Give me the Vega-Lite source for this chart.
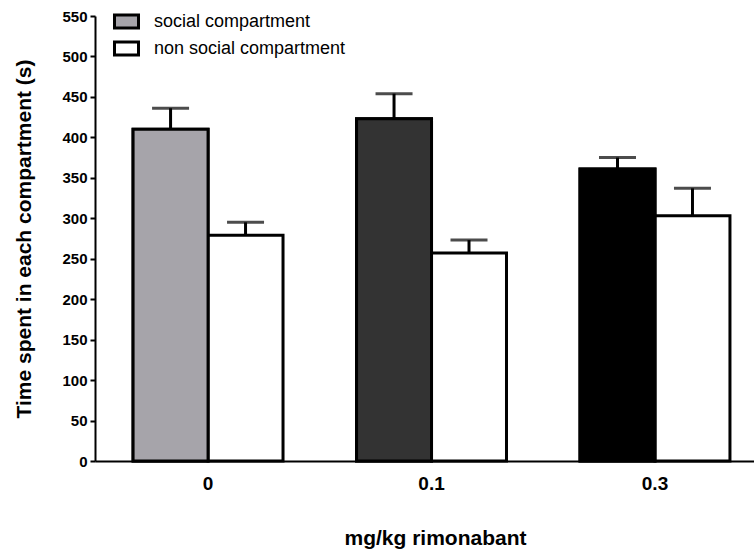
{
  "$schema": "https://vega.github.io/schema/vega-lite/v6.json",
  "autosize": "none",
  "width": 659,
  "height": 445,
  "padding": {"left": 95, "top": 16, "right": 0, "bottom": 92},
  "config": {
    "view": {"stroke": null},
    "font": "Liberation Sans",
    "axis": {"grid": false, "domainColor": "black", "domainWidth": 2, "tickColor": "black", "tickWidth": 2, "labelColor": "black", "titleColor": "black"}
  },
  "data": {
    "values": [
      {"dose": "0", "compartment": "social compartment", "time": 410, "upper": 436},
      {"dose": "0", "compartment": "non social compartment", "time": 279, "upper": 295},
      {"dose": "0.1", "compartment": "social compartment", "time": 423, "upper": 454},
      {"dose": "0.1", "compartment": "non social compartment", "time": 257, "upper": 273},
      {"dose": "0.3", "compartment": "social compartment", "time": 361, "upper": 375},
      {"dose": "0.3", "compartment": "non social compartment", "time": 303, "upper": 337}
    ]
  },
  "encoding": {
    "x": {
      "field": "dose", "type": "nominal",
      "scale": {"paddingInner": 0.329, "paddingOuter": 0.139, "align": 0.613},
      "axis": {"title": "mg/kg rimonabant", "labelAngle": 0, "ticks": false, "labelPadding": 13, "labelFontSize": 19, "labelFontWeight": "bold", "titleFontSize": 21, "titleFontWeight": "bold", "titlePadding": 34, "titleX": 340}
    },
    "xOffset": {"field": "compartment", "type": "nominal", "sort": ["social compartment", "non social compartment"], "scale": {"paddingInner": 0, "paddingOuter": 0}}
  },
  "layer": [
    {
      "mark": {"type": "rule", "stroke": "black", "strokeWidth": 3},
      "encoding": {
        "y": {"field": "time", "type": "quantitative"},
        "y2": {"field": "upper"}
      }
    },
    {
      "mark": {"type": "tick", "color": "black", "thickness": 3, "size": 37, "orient": "horizontal"},
      "encoding": {
        "y": {"field": "upper", "type": "quantitative"}
      }
    },
    {
      "mark": {"type": "bar", "stroke": "black", "strokeWidth": 3},
      "encoding": {
        "y": {
          "field": "time", "type": "quantitative",
          "scale": {"domain": [0, 550], "nice": false},
          "axis": {"values": [0,50,100,150,200,250,300,350,400,450,500,550], "title": "Time spent in each compartment (s)", "tickSize": 5, "labelFontSize": 15, "labelFontWeight": "bold", "titleFontSize": 21, "titleFontWeight": "bold", "titlePadding": 27, "labelPadding": 3}
        },
        "fill": {
          "field": "compartment", "type": "nominal",
          "sort": ["social compartment", "non social compartment"],
          "scale": {"domain": ["social compartment", "non social compartment"], "range": ["#a6a4aa", "#ffffff"]},
          "legend": {"title": null, "orient": "none", "legendX": 18, "legendY": -8, "labelFontSize": 18, "labelLimit": 400, "labelColor": "black", "symbolType": "M-1,-0.55H1V0.55H-1Z", "symbolSize": 576, "symbolStrokeColor": "black", "symbolStrokeWidth": 3, "symbolOpacity": 1, "labelOffset": 14, "rowPadding": -1}
        }
      }
    },
    {
      "transform": [{"filter": "datum.compartment == 'social compartment'"}],
      "mark": {"type": "bar", "stroke": "black", "strokeWidth": 3},
      "encoding": {
        "y": {"field": "time", "type": "quantitative"},
        "fill": {
          "field": "dose", "type": "nominal",
          "scale": {"domain": ["0", "0.1", "0.3"], "range": ["#a6a4aa", "#333333", "#000000"]},
          "legend": null
        }
      }
    }
  ],
  "resolve": {"scale": {"fill": "independent"}}
}
